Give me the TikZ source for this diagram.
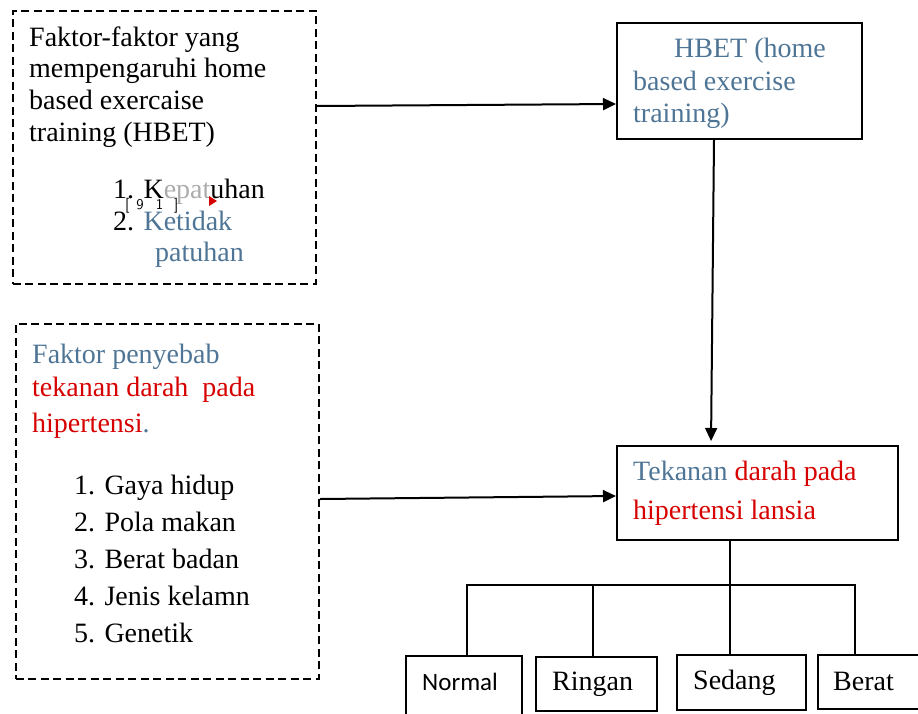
\documentclass[tikz,border=0pt]{standalone}
\usepackage{fontspec}
\setmainfont{Liberation Serif}
\newfontfamily\calibri{Carlito}
\usetikzlibrary{arrows.meta}

\begin{document}
\begin{tikzpicture}[x=1pt,y=-1pt,>={Triangle[length=13pt,width=12pt]},line join=miter]

% Colors
\definecolor{headblue}{RGB}{79,117,150}
\definecolor{headred}{RGB}{215,0,0}

% Styles
\tikzset{
  dashbox/.style={draw,line width=1.8pt,dash pattern=on 8pt off 4.5pt,anchor=north west,inner sep=0},
  solidbox/.style={draw,line width=1.8pt,anchor=north west,inner sep=0},
  txt/.style={font=\fontsize{28}{31}\selectfont,anchor=base west,inner sep=0},
  link/.style={line width=2pt,->},
  branch/.style={line width=1.6pt}
}

\useasboundingbox (0,0) rectangle (918,713);
\clip (0,0) rectangle (918,713);

% Boxes
\node[dashbox,minimum width=303pt,minimum height=273pt] (factbox) at (12,10) {};
\node[solidbox,minimum width=245pt,minimum height=116pt] (hbetbox) at (616,22) {};
\node[dashbox,minimum width=303pt,minimum height=355pt] (causebox) at (15,323) {};
\node[solidbox,minimum width=281pt,minimum height=94pt] (tdbox) at (616,445) {};

% Level boxes at the bottom
\node[solidbox,minimum width=116pt,minimum height=70pt] (normal) at (405,655) {};
\node[solidbox,minimum width=121pt,minimum height=54pt] (ringan) at (535,656) {};
\node[solidbox,minimum width=129pt,minimum height=55pt] (sedang) at (676,654) {};
\node[solidbox,minimum width=110pt,minimum height=54pt] (berat) at (817,654) {};

% Text of the first factor box
\foreach \t [count=\i] in {Faktor-faktor yang,mempengaruhi home,based exercaise,training (HBET)} {
  \node[txt] (ft\i) at (29,{46+31.7*(\i-1)}) {\t};
}
\node[txt] (fl1) at (113,198) {1. K\textcolor{gray!65}{epat}uhan};
\node[txt] (fl2) at (113,230) {2. \textcolor{headblue}{Ketidak}};
\node[txt,text=headblue] (fl3) at (155,261) {patuhan};
\node[font=\fontsize{15}{15}\sffamily,anchor=base west,inner sep=0] (mark) at (125,209) {[\hspace{7pt}9\hspace{12pt}1\hspace{11pt}]};
\fill[headred] (209,196) -- (217,201) -- (209,206) -- cycle;

% Text of the HBET box
\node[txt,text=headblue] (hb1) at (674,57) {HBET (home};
\node[txt,text=headblue] (hb2) at (633,90) {based exercise};
\node[txt,text=headblue] (hb3) at (633,122) {training)};

% Text of the cause box
\node[txt,text=headblue] (cf1) at (32,363) {Faktor penyebab};
\node[txt,text=headred] (cf2) at (32,396) {tekanan darah\ \ pada};
\node[txt] (cf3) at (32,432) {\textcolor{headred}{hipertensi}\textcolor{headblue}{.}};
\foreach \t [count=\i] in {Gaya hidup,Pola makan,Berat badan,Jenis kelamn,Genetik} {
  \node[txt] (cl\i) at (74,{494+37*(\i-1)}) {\i. \t};
}

% Text of the blood pressure box
\node[txt] (td1) at (633,480) {\textcolor{headblue}{Tekanan} \textcolor{headred}{darah pada}};
\node[txt,text=headred] (td2) at (633,519) {hipertensi lansia};

% Level labels
\node[txt,font=\calibri\fontsize{25}{30}\selectfont] (lv1) at (422,690) {Normal};
\node[txt] (lv2) at (552,690) {Ringan};
\node[txt] (lv3) at (693,689) {Sedang};
\node[txt] (lv4) at (833,690) {Berat};

% Arrows
\draw[link] (factbox.east |- 0,106) -- (hbetbox.west |- 0,104);
\draw[link,shorten >=4pt] (hbetbox.south -| 714,0) -- (tdbox.north -| 711,0);
\draw[link] (causebox.east |- 0,499) -- (tdbox.west |- 0,496);

% Tree to the levels
\coordinate (hub) at (730,585);
\draw[branch] (tdbox.south -| hub) -- (sedang.north -| hub);
\draw[branch] (normal.north -| 467,0) |- (hub) -| (berat.north -| 855,0);
\draw[branch] (ringan.north -| 593,0) -- (593,585);

\end{tikzpicture}
\end{document}
